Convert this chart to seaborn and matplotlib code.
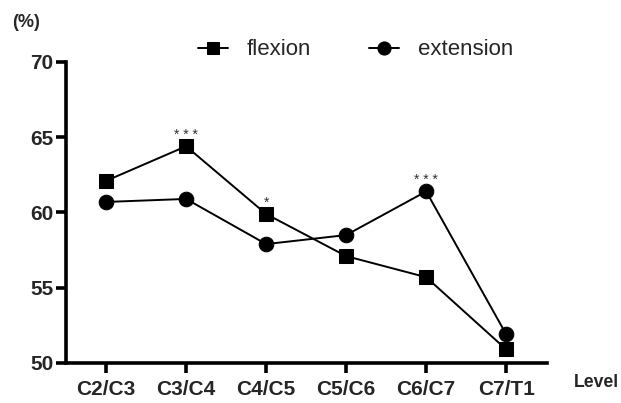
import matplotlib
matplotlib.use("Agg")
import matplotlib.pyplot as plt
import numpy as np
import pandas as pd
import seaborn as sns

# data
levels = ["C2/C3", "C3/C4", "C4/C5", "C5/C6", "C6/C7", "C7/T1"]
flexion = [62.1, 64.4, 59.9, 57.1, 55.7, 50.9]
extension = [60.7, 60.9, 57.9, 58.5, 61.4, 51.9]
# significance marks: (level index, series, label)
sig_marks = [(1, "flexion", "* * *"), (2, "flexion", "*"), (4, "extension", "* * *")]

sns.set_theme(style="white")
plt.rcParams["font.family"] = ["Liberation Sans", "DejaVu Sans"]

df = pd.DataFrame({
    "pos": list(range(len(levels))) * 2,
    "value": flexion + extension,
    "series": ["flexion"] * len(levels) + ["extension"] * len(levels),
})

fig = plt.figure(figsize=(6.21, 4.03), dpi=100)
ax = fig.add_axes([0.1063, 0.0993, 0.7746, 0.7469])

sub_f = df[df.series == "flexion"]
sub_e = df[df.series == "extension"]
sns.lineplot(data=sub_f, x="pos", y="value", ax=ax, color="black", marker="s",
             markersize=9.5, linewidth=1.4, markeredgecolor="black", label="flexion")
sns.lineplot(data=sub_e, x="pos", y="value", ax=ax, color="black", marker="o",
             markersize=10.5, linewidth=1.4, markeredgecolor="black", label="extension")

vals = {"flexion": flexion, "extension": extension}
for i, s, lab in sig_marks:
    ax.annotate(lab, (i, vals[s][i]), xytext=(0, 3), textcoords="offset points",
                ha="center", va="bottom", fontsize=10, color="#333333")

ax.set_xlim(-0.5, 5.51)
ax.set_ylim(50, 70)
ax.set_xticks(range(len(levels)))
ax.set_xticklabels(levels)
ax.set_yticks([50, 55, 60, 65, 70])
ax.set_xlabel("")
ax.set_ylabel("")
for lab in ax.get_xticklabels() + ax.get_yticklabels():
    lab.set_fontweight("bold")
    lab.set_fontsize(15)
ax.tick_params(axis="both", direction="out", length=7, width=2.6, color="black",
               left=True, bottom=True)
ax.tick_params(axis="y", pad=2)
ax.tick_params(axis="x", pad=5)

for side in ["top", "right"]:
    ax.spines[side].set_visible(False)
for side in ["left", "bottom"]:
    ax.spines[side].set_linewidth(2.6)
    ax.spines[side].set_color("black")

fig.text(0.042, 0.943, "(%)", fontsize=13, fontweight="bold", ha="center", va="center")
fig.text(0.96, 0.052, "Level", fontsize=12.7, fontweight="bold", ha="center", va="center")

leg = ax.legend(loc="center", bbox_to_anchor=(0.602, 1.04), ncol=2, frameon=False,
                fontsize=16, handlelength=1.35, columnspacing=2.6, handletextpad=0.86,
                markerscale=0.9)

fig.savefig("out.png", dpi=100)
